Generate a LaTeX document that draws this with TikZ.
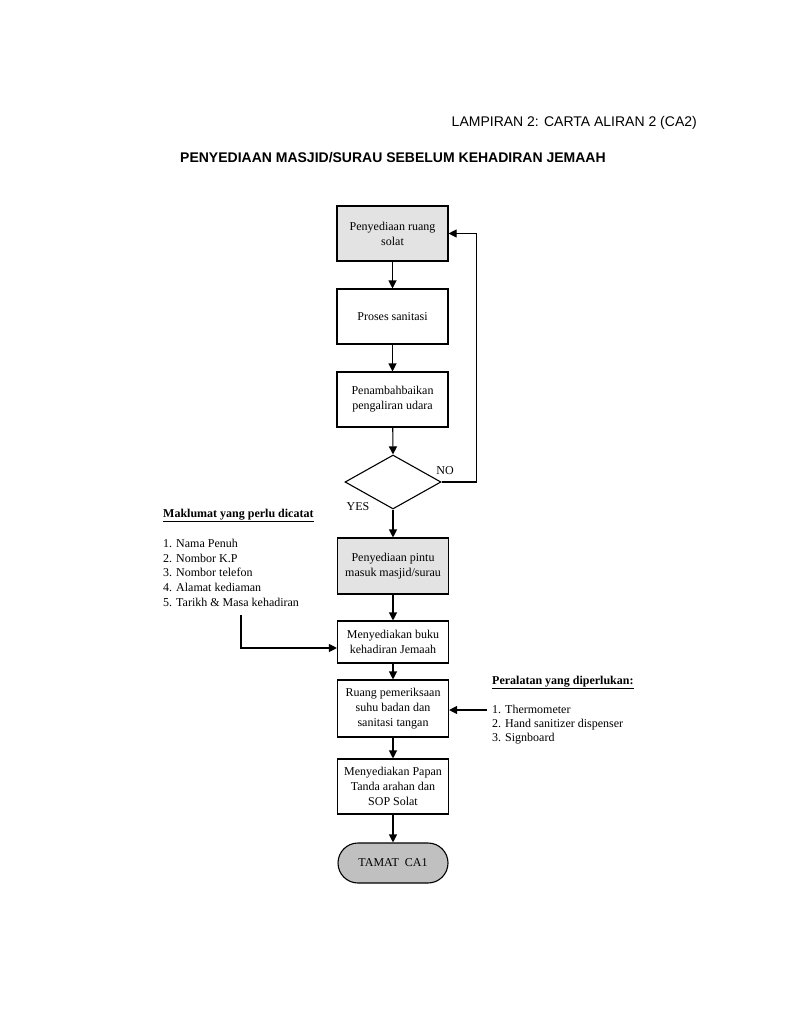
\documentclass[tikz,border=0pt]{standalone}
\usepackage{fontspec}
\setmainfont{Liberation Serif}
\newfontfamily\hdfont{Liberation Sans}
\usetikzlibrary{shapes.geometric,arrows.meta}
\definecolor{boxgray}{HTML}{E3E3E3}
\definecolor{termgray}{HTML}{C0C0C0}
\begin{document}
\begin{tikzpicture}[x=1pt,y=-1pt,
  proc/.style={draw,line width=1.1pt,minimum width=111pt,inner sep=2pt,align=center,font=\fontsize{12}{15}\selectfont},
  graybox/.style={proc,fill=boxgray},
  flow/.style={line width=1.1pt,-{Triangle[length=8pt,width=8pt]}},
  plain/.style={line width=1.1pt},
  txt/.style={anchor=base west,inner sep=0pt,font=\fontsize{12}{15}\selectfont},
  lbl/.style={inner sep=0pt,font=\fontsize{12}{15}\selectfont}]
\useasboundingbox (0,0) rectangle (792,1024);
\fill[white] (0,0) rectangle (792,1024);
% headers
\node[anchor=base east,inner sep=0pt,font=\hdfont\fontsize{14}{16}\selectfont] (lamp) at (697,127) {LAMPIRAN 2: CARTA ALIRAN 2 (CA2)};
\node[anchor=base west,inner sep=0pt,font=\hdfont\bfseries\fontsize{14}{16}\selectfont] (title) at (180,163) {PENYEDIAAN MASJID/SURAU SEBELUM KEHADIRAN JEMAAH};
% flow
\node[graybox,minimum height=55pt] (b1) at (392.5,233.5) {Penyediaan ruang\\solat};
\node[proc,minimum height=55pt] (b2) at (392.5,316.5) {Proses sanitasi};
\node[proc,minimum height=55pt] (b3) at (392.5,399.5) {Penambahbaikan\\pengaliran udara};
\node[draw,diamond,line width=1.1pt,minimum width=96pt,minimum height=54pt,inner sep=0pt] (dec) at (393,482) {};
\node[graybox,minimum height=56pt] (b4) at (393,566) {Penyediaan pintu\\masuk masjid/surau};
\node[proc,minimum height=42pt] (b5) at (393,642) {Menyediakan buku\\kehadiran Jemaah};
\node[proc,minimum height=57pt] (b6) at (393,708.5) {Ruang pemeriksaan\\suhu badan dan\\sanitasi tangan};
\node[proc,minimum height=55pt] (b7) at (393,786.5) {Menyediakan Papan\\Tanda arahan dan\\SOP Solat};
\node[draw,line width=1.1pt,fill=termgray,rounded corners=20pt,minimum width=110pt,minimum height=40pt,font=\fontsize{12}{15}\selectfont] (end) at (393,863) {TAMAT\ \ CA1};
\node[lbl] (no) at (445,471) {NO};
\node[lbl] (yes) at (358,507) {YES};
\draw[flow] (b1) -- (b2);
\draw[flow] (b2) -- (b3);
\draw[flow] (b3) -- (dec.north);
\draw[flow] (dec.south) -- (b4);
\draw[flow] (b4) -- (b5);
\draw[flow] (b5) -- (b6);
\draw[flow] (b6) -- (b7);
\draw[flow] (b7) -- (end);
\draw[flow] (dec.east) -- ++(35,0) |- (b1.east);
% left info
\node[txt,font=\bfseries\fontsize{12}{15}\selectfont] (lt) at (163,517) {\underline{Maklumat yang perlu dicatat}};
\node[txt] (l1) at (163,547) {1. Nama Penuh};
\node[txt] (l2) at (163,562) {2. Nombor K.P};
\node[txt] (l3) at (163,576) {3. Nombor telefon};
\node[txt] (l4) at (163,591) {4. Alamat kediaman};
\node[txt] (l5) at (163,606) {5. Tarikh \& Masa kehadiran};
\coordinate (ls) at (241,615);
\coordinate (lc) at (241,648);
\draw[flow] (ls) -- (lc) -- (lc -| b5.west);
% right info
\node[txt,font=\bfseries\fontsize{12}{15}\selectfont] (rt) at (492,684) {\underline{Peralatan yang diperlukan:}};
\node[txt] (r1) at (492,713) {1. Thermometer};
\node[txt] (r2) at (492,727) {2. Hand sanitizer dispenser};
\node[txt] (r3) at (492,741) {3. Signboard};
\coordinate (rs) at (487,710);
\draw[flow] (rs) -- (rs -| b6.east);
\end{tikzpicture}
\end{document}
